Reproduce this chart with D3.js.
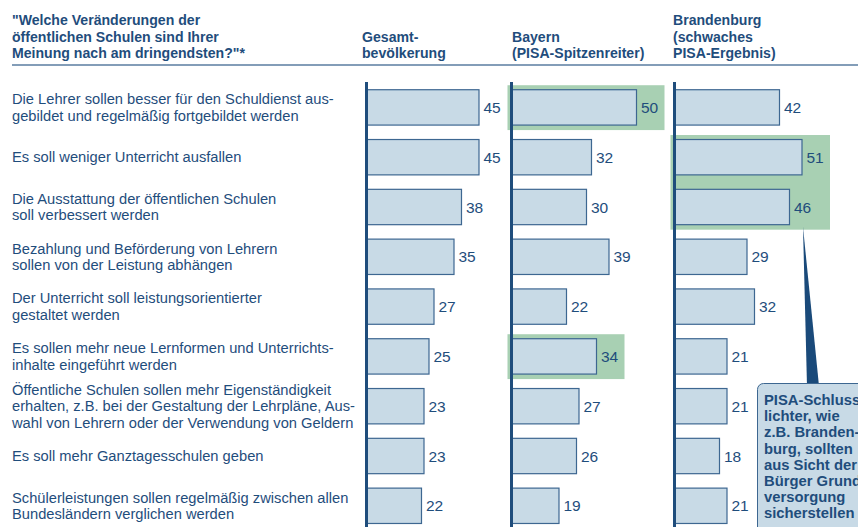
<!DOCTYPE html>
<html><head><meta charset="utf-8">
<script src="https://cdn.jsdelivr.net/npm/d3@7"></script>
<style>
html,body{margin:0;padding:0;background:#fff;}
svg{display:block;font-family:"Liberation Sans",Arial,sans-serif;}
</style></head>
<body>
<svg id="c" width="858" height="527"></svg>
<script>
const titleLines = ['"Welche Veränderungen der', 'öffentlichen Schulen sind Ihrer', 'Meinung nach am dringendsten?"*'];
const categories = [
  ["Die Lehrer sollen besser für den Schuldienst aus-", "gebildet und regelmäßig fortgebildet werden"],
  ["Es soll weniger Unterricht ausfallen"],
  ["Die Ausstattung der öffentlichen Schulen", "soll verbessert werden"],
  ["Bezahlung und Beförderung von Lehrern", "sollen von der Leistung abhängen"],
  ["Der Unterricht soll leistungsorientierter", "gestaltet werden"],
  ["Es sollen mehr neue Lernformen und Unterrichts-", "inhalte eingeführt werden"],
  ["Öffentliche Schulen sollen mehr Eigenständigkeit", "erhalten, z.B. bei der Gestaltung der Lehrpläne, Aus-", "wahl von Lehrern oder der Verwendung von Geldern"],
  ["Es soll mehr Ganztagesschulen geben"],
  ["Schülerleistungen sollen regelmäßig zwischen allen", "Bundesländern verglichen werden"]
];
const seriesNames = [["Gesamt-", "bevölkerung"], ["Bayern", "(PISA-Spitzenreiter)"], ["Brandenburg", "(schwaches", "PISA-Ergebnis)"]];
const gesamt = [45, 45, 38, 35, 27, 25, 23, 23, 22];
const bayern = [50, 32, 30, 39, 22, 34, 27, 26, 19];
const brandenburg = [42, 51, 46, 29, 32, 21, 21, 18, 21];
const highlights = [[1, 0, 0], [1, 5, 5], [2, 1, 2]]; // [series, fromRow, toRow]
const calloutLines = ["PISA-Schluss-", "lichter, wie", "z.B. Branden-", "burg, sollten", "aus Sicht der", "Bürger Grund-", "versorgung", "sicherstellen"];

const series = [gesamt, bayern, brandenburg];
const dark = "#1f4d7c";
const barFill = "#c8dae6";
const barStroke = "#3d6791";
const green = "#a8d0b3";

const svg = d3.select("#c");
const axisX = [366.5, 511.5, 674.5];
const x = d3.scaleLinear().domain([0, 50]).range([0, 125]);
const y = d3.scaleBand().domain(d3.range(categories.length)).range([82.5, 82.5 + 49.8 * 9]).paddingInner(0.29).paddingOuter(0.145);

// header
svg.append("g").selectAll("text").data(titleLines).join("text")
  .attr("x", 12).attr("y", (d, i) => 25 + i * 16.5)
  .attr("font-size", 14.1).attr("font-weight", "bold").attr("fill", dark).text(d => d);
const headX = [362, 512, 673];
seriesNames.forEach((lines, s) => {
  const n = lines.length;
  svg.append("g").selectAll("text").data(lines).join("text")
    .attr("x", headX[s]).attr("y", (d, i) => 58 - (n - 1 - i) * 16.5)
    .attr("font-size", 14.1).attr("font-weight", "bold").attr("fill", dark).text(d => d);
});
svg.append("line").attr("x1", 12).attr("x2", 858).attr("y1", 65).attr("y2", 65)
  .attr("stroke", "#5a7da0").attr("stroke-width", 1.5);

// category labels
categories.forEach((lines, i) => {
  const cy = y(i) + y.bandwidth() / 2;
  const n = lines.length;
  svg.append("g").selectAll("text").data(lines).join("text")
    .attr("x", 12).attr("y", (d, j) => cy + (j - (n - 1) / 2) * 16.3 + 5)
    .attr("font-size", 14.7).attr("fill", dark).text(d => d);
});

// highlights
highlights.forEach(([s, a, b]) => {
  const maxV = d3.max(d3.range(a, b + 1), r => series[s][r]);
  svg.append("rect")
    .attr("x", axisX[s] - 4).attr("y", y(a) - 4.5)
    .attr("width", x(maxV) + 28 + 4)
    .attr("height", y(b) + y.bandwidth() + 4.5 - (y(a) - 4.5) + 0.5)
    .attr("fill", green);
});

// bars
series.forEach((vals, s) => {
  const g = svg.append("g");
  g.selectAll("rect").data(vals).join("rect")
    .attr("x", axisX[s]).attr("y", (d, i) => y(i))
    .attr("width", d => x(d)).attr("height", y.bandwidth())
    .attr("fill", barFill).attr("stroke", barStroke).attr("stroke-width", 1.2);
  g.selectAll("text").data(vals).join("text")
    .attr("x", d => axisX[s] + x(d) + 4.5).attr("y", (d, i) => y(i) + y.bandwidth() / 2 + 5.5)
    .attr("font-size", 15.5).attr("fill", dark).text(d => d);
  g.append("line").attr("x1", axisX[s]).attr("x2", axisX[s]).attr("y1", 82).attr("y2", 527)
    .attr("stroke", dark).attr("stroke-width", 3);
});

// callout pointer
svg.append("path").attr("d", "M803,227 L807,386 L819,386 Z").attr("fill", "#1a4a7a");
// callout box
svg.append("rect").attr("x", 757.5).attr("y", 383.5).attr("width", 120).attr("height", 160).attr("rx", 6)
  .attr("fill", barFill).attr("stroke", barStroke).attr("stroke-width", 1);
svg.append("g").selectAll("text").data(calloutLines).join("text")
  .attr("x", 764).attr("y", (d, i) => 405 + i * 16.2)
  .attr("font-size", 14.8).attr("font-weight", "bold").attr("fill", dark).text(d => d);
</script>
</body></html>
